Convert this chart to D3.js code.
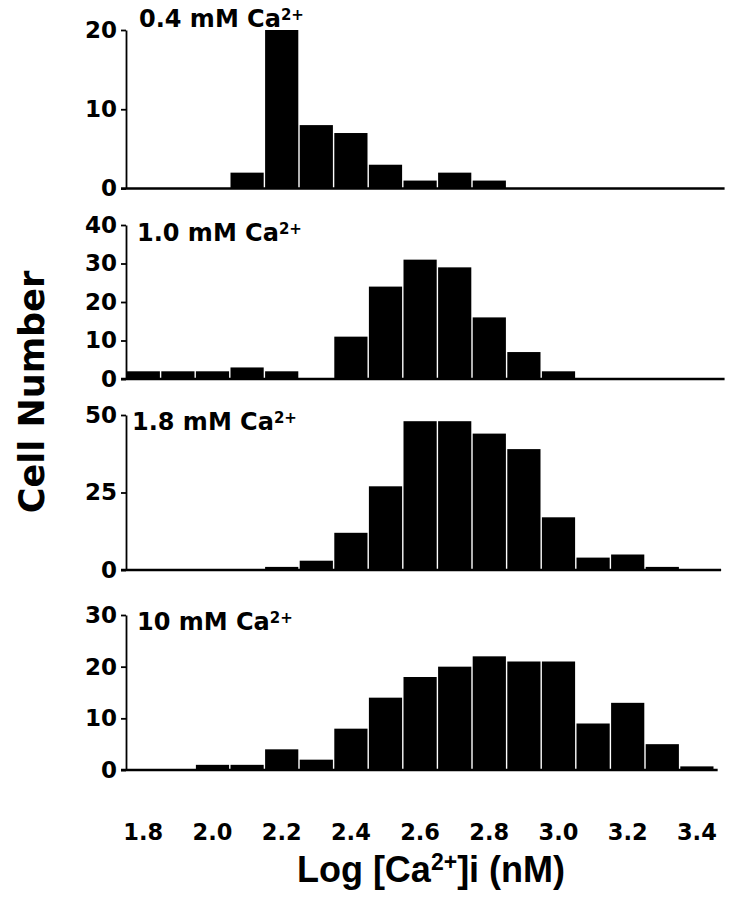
<!DOCTYPE html>
<html>
<head>
<meta charset="utf-8">
<script src="https://cdn.jsdelivr.net/npm/d3@7"></script>
<style>
  html, body { margin: 0; padding: 0; background: #fff; }
  svg { display: block; }
  text { font-family: "DejaVu Sans", "Liberation Sans", sans-serif; font-weight: bold; fill: #000; }
</style>
</head>
<body>
<svg id="chart" width="732" height="899"></svg>
<script>
// ---- data ----
const binCenters = [1.8, 1.9, 2.0, 2.1, 2.2, 2.3, 2.4, 2.5, 2.6, 2.7, 2.8, 2.9, 3.0, 3.1, 3.2, 3.3, 3.4];
const xTickValues = [1.8, 2.0, 2.2, 2.4, 2.6, 2.8, 3.0, 3.2, 3.4];
const xTickLabels = ["1.8", "2.0", "2.2", "2.4", "2.6", "2.8", "3.0", "3.2", "3.4"];

const panelNames = ["0.4 mM Ca", "1.0 mM Ca", "1.8 mM Ca", "10 mM Ca"];
const counts04 = [0, 0, 0, 2, 20, 8, 7, 3, 1, 2, 1, 0, 0, 0, 0, 0, 0];
const counts10 = [2, 2, 2, 3, 2, 0, 11, 24, 31, 29, 16, 7, 2, 0, 0, 0, 0];
const counts18 = [0, 0, 0, 0, 1, 3, 12, 27, 48, 48, 44, 39, 17, 4, 5, 1, 0];
const counts100 = [0, 0, 1, 1, 4, 2, 8, 14, 18, 20, 22, 21, 21, 9, 13, 5, 0.7];
const yMaxes = [20, 40, 50, 30];
const yTicks04 = [0, 10, 20];
const yTicks10 = [0, 10, 20, 30, 40];
const yTicks18 = [0, 25, 50];
const yTicks100 = [0, 10, 20, 30];
const xAxisTitle = ["Log [Ca", "2+", "]i (nM)"];
const yAxisTitle = "Cell Number";

// ---- layout ----
const svg = d3.select("#chart");
const axisX = 126;
const binW = 0.1;
const x = d3.scaleLinear().domain([1.75, 3.48]).range([axisX, axisX + 1.73 * 346]);

const panels = [
  { counts: counts04, ticks: yTicks04, max: yMaxes[0], base: 188.5, top: 30, title: panelNames[0], tx: 139, ty: 27, end: 3.48 },
  { counts: counts10, ticks: yTicks10, max: yMaxes[1], base: 379, top: 225, title: panelNames[1], tx: 137, ty: 241, end: 3.48 },
  { counts: counts18, ticks: yTicks18, max: yMaxes[2], base: 570, top: 415, title: panelNames[2], tx: 132, ty: 430, end: 3.47 },
  { counts: counts100, ticks: yTicks100, max: yMaxes[3], base: 770, top: 615, title: panelNames[3], tx: 137, ty: 630, end: 3.46 }
];

panels.forEach(p => {
  const y = d3.scaleLinear().domain([0, p.max]).range([p.base, p.top]);
  const g = svg.append("g");

  // bars
  g.selectAll("rect.bar")
    .data(binCenters.map((c, i) => ({ c, v: p.counts[i] })).filter(d => d.v > 0))
    .enter().append("rect")
    .attr("class", "bar")
    .attr("x", d => x(d.c - binW / 2) + 0.7)
    .attr("width", d => x(d.c + binW / 2) - x(d.c - binW / 2) - 1.4)
    .attr("y", d => y(d.v))
    .attr("height", d => y(0) - y(d.v))
    .attr("fill", "#000");

  // y axis
  const yAxis = d3.axisLeft(y).tickValues(p.ticks).tickSize(5).tickSizeOuter(0).tickPadding(4).tickFormat(d3.format("d"));
  const ga = g.append("g").attr("transform", `translate(${axisX},0)`).call(yAxis);
  ga.select(".domain").attr("stroke", "#000").attr("stroke-width", 1.8);
  ga.selectAll(".tick line").attr("stroke", "#000").attr("stroke-width", 1.8);
  ga.selectAll(".tick text")
    .style("font-family", "'DejaVu Sans', sans-serif")
    .style("font-weight", "bold")
    .style("font-size", "23px")
    .attr("fill", "#000");

  // baseline
  g.append("line")
    .attr("x1", axisX - 5).attr("x2", x(p.end))
    .attr("y1", y(0)).attr("y2", y(0))
    .attr("stroke", "#000").attr("stroke-width", 2.6);

  // panel title
  const t = g.append("text").attr("x", p.tx).attr("y", p.ty).style("font-size", "24px");
  t.append("tspan").text(p.title);
  t.append("tspan").attr("dy", -7).style("font-size", "15px").text("2+");
});

// x tick labels (bottom panel)
svg.append("g").selectAll("text.xt")
  .data(xTickValues)
  .enter().append("text")
  .attr("class", "xt")
  .attr("x", d => x(d))
  .attr("y", 840)
  .attr("text-anchor", "middle")
  .style("font-size", "22.5px")
  .text((d, i) => xTickLabels[i]);

// x axis title
const xt = svg.append("text").attr("x", 431).attr("y", 882).attr("text-anchor", "middle")
  .style("font-family", "'Liberation Sans', Arial, sans-serif").style("font-size", "36px");
xt.append("tspan").text(xAxisTitle[0]);
xt.append("tspan").attr("dy", -12).style("font-size", "23px").text(xAxisTitle[1]);
xt.append("tspan").attr("dy", 12).text(xAxisTitle[2]);

// y axis title
svg.append("text")
  .attr("transform", "translate(44,392) rotate(-90)")
  .attr("text-anchor", "middle")
  .style("font-size", "35px")
  .text(yAxisTitle);
</script>
</body>
</html>
